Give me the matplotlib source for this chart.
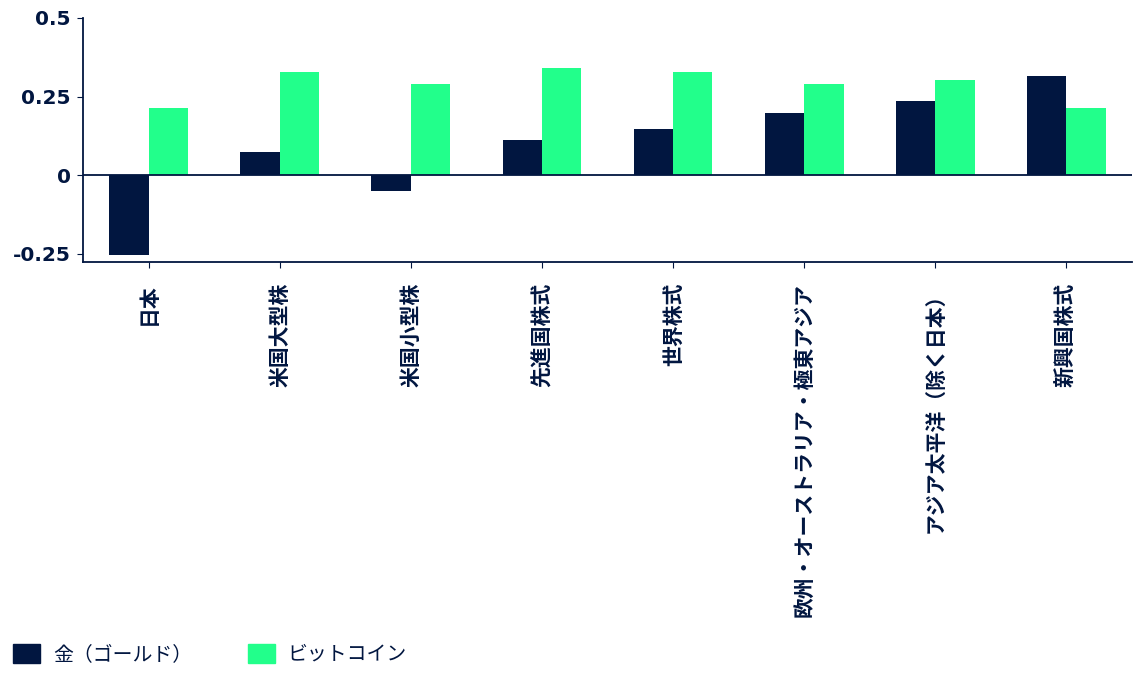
import matplotlib
matplotlib.use("Agg")
import matplotlib.pyplot as plt
import numpy as np
from matplotlib.patches import Patch

categories = ["日本", "米国大型株", "米国小型株", "先進国株式", "世界株式",
              "欧州・オーストラリア・極東アジア", "アジア太平洋（除く日本）", "新興国株式"]
gold = [-0.255, 0.073, -0.051, 0.111, 0.146, 0.196, 0.235, 0.314]
bitcoin = [0.213, 0.328, 0.290, 0.341, 0.329, 0.291, 0.303, 0.213]
series_names = ["金（ゴールド）", "ビットコイン"]
yticks = [-0.25, 0, 0.25, 0.5]
yticklabels = ["-0.25", "0", "0.25", "0.5"]

NAVY = "#011640"
GREEN = "#22FF8B"

plt.rcParams['font.family'] = ['Noto Sans CJK JP', 'DejaVu Sans']

fig = plt.figure(figsize=(11.47, 6.80), dpi=100)
ax = fig.add_axes([83/1147, 1-262/680, (1132-83)/1147, (262-18)/680])

x = np.arange(len(categories))
w = 0.3
ax.bar(x - w/2, gold, width=w, color=NAVY, zorder=2)
ax.bar(x + w/2, bitcoin, width=w, color=GREEN, zorder=2)
ax.axhline(0, color=NAVY, lw=1.3, zorder=3)

ax.set_xlim(-0.5, len(categories) - 0.5)
ax.set_ylim(-0.277, 0.5)
ax.set_yticks(yticks)
ax.set_yticklabels(yticklabels, fontsize=14.5, fontweight='bold', color=NAVY,
                   family=['DejaVu Sans'])
ax.set_xticks(x)
ax.set_xticklabels(categories, rotation=90, fontsize=15, fontweight='bold',
                   color=NAVY, va='top', ha='center')
ax.tick_params(axis='x', length=4, color=NAVY, pad=11)
ax.tick_params(axis='y', length=4, color=NAVY, pad=5)

for s in ['top', 'right']:
    ax.spines[s].set_visible(False)
for s in ['left', 'bottom']:
    ax.spines[s].set_color(NAVY)
    ax.spines[s].set_linewidth(1.3)

handles = [Patch(facecolor=NAVY, edgecolor=NAVY), Patch(facecolor=GREEN, edgecolor=GREEN)]
leg = fig.legend(handles, series_names, loc='lower left', bbox_to_anchor=(-0.004, -0.004),
                 ncol=2, frameon=False, fontsize=14.3, handlelength=1.35, handleheight=1.1,
                 handletextpad=0.65, columnspacing=2.8)
for t in leg.get_texts():
    t.set_color(NAVY)

fig.savefig("out.png", dpi=100, facecolor='white')
